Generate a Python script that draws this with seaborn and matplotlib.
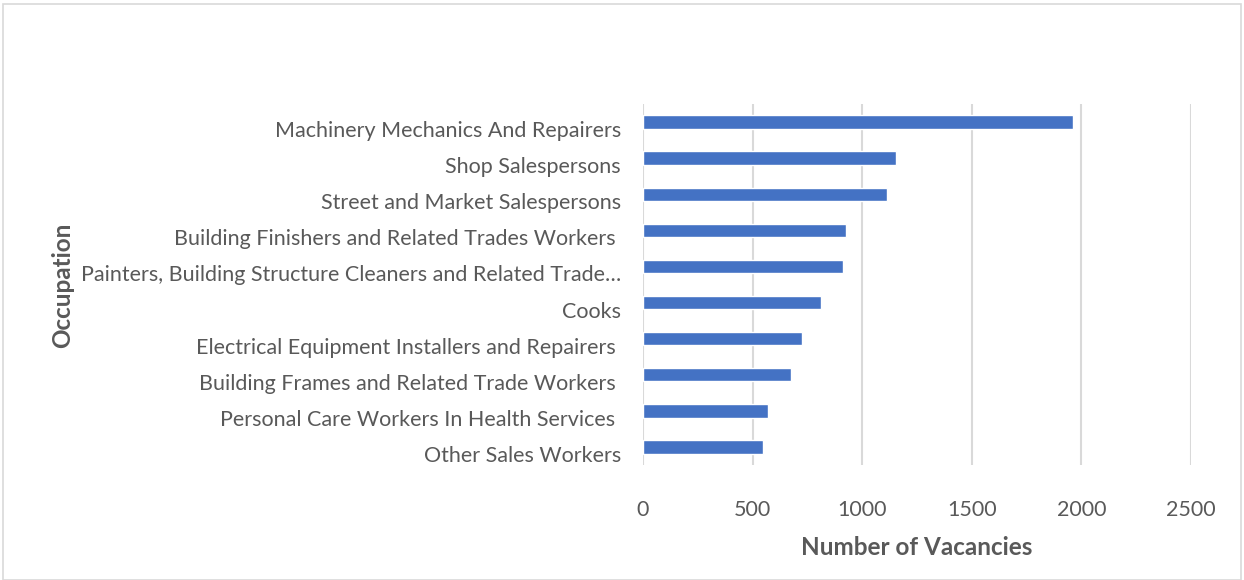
import pandas as pd
import seaborn as sns
import matplotlib.pyplot as plt
from matplotlib.patches import Rectangle
from matplotlib.transforms import ScaledTranslation

occupations = [
    'Machinery Mechanics And Repairers',
    'Shop Salespersons',
    'Street and Market Salespersons',
    'Building Finishers and Related Trades Workers ',
    'Painters, Building Structure Cleaners and Related Trade…',
    'Cooks',
    'Electrical Equipment Installers and Repairers ',
    'Building Frames and Related Trade Workers ',
    'Personal Care Workers In Health Services ',
    'Other Sales Workers',
]
vacancies = [1963, 1153, 1113, 925, 913, 812, 725, 676, 571, 549]
x_ticks = [0, 500, 1000, 1500, 2000, 2500]

df = pd.DataFrame({'Occupation': occupations, 'Vacancies': vacancies})

sns.set_style('white')
plt.rcParams['font.family'] = ['Lato', 'DejaVu Sans']

W, H = 1244, 580
fig = plt.figure(figsize=(W / 100, H / 100), dpi=100)
ax = fig.add_axes([643 / W, 1 - 465 / H, (1191 - 643) / W, (465 - 104) / H])

sns.barplot(data=df, x='Vacancies', y='Occupation', orient='h',
            color='#4472C4', width=0.37, saturation=1, ax=ax, zorder=3)

ax.set_xlim(0, 2500)
ax.set_ylim(len(occupations) - 0.5, -0.5)
ax.set_xticks(x_ticks)
ax.set_xticklabels([str(t) for t in x_ticks])
ax.xaxis.grid(True, color='#d9d9d9', linewidth=1.5, zorder=0)
ax.set_axisbelow(True)
for s in ax.spines.values():
    s.set_visible(False)
ax.tick_params(axis='both', length=0, labelsize=15.5, labelcolor='#595959')
ax.tick_params(axis='x', pad=25)
ax.tick_params(axis='y', pad=16)

# excel puts the category labels a little lower than the bars
shift = ScaledTranslation(0, -7 / 100, fig.dpi_scale_trans)
for lbl in ax.get_yticklabels():
    lbl.set_transform(lbl.get_transform() + shift)

ax.set_xlabel('Number of Vacancies', fontsize=17.5, fontweight='bold', color='#595959', labelpad=12)
ax.set_ylabel('')
fig.text(63 / W, 1 - 285 / H, 'Occupation', rotation=90, fontsize=17.5, fontweight='bold',
         color='#595959', ha='center', va='center')

fig.patches.append(Rectangle((3 / W, 0), 1 - 6 / W, 1 - 4 / H, transform=fig.transFigure,
                             fill=False, edgecolor='#d9d9d9', linewidth=1.2))

fig.savefig('out.png', dpi=100)
